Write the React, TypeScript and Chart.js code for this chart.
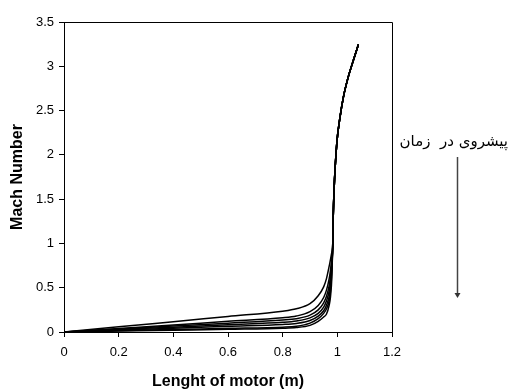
import React, { useEffect, useRef } from "react";
import { Chart, registerables } from "chart.js";

Chart.register(...registerables);

// Shared x positions (m) for the low-speed part of each curve
const bundleX = [0, 0.2, 0.4, 0.6, 0.8, 0.85, 0.9, 0.93, 0.95, 0.96, 0.97, 0.975, 0.98];

// Mach number of each time step over bundleX
const curve1 = [0, 0.058, 0.117, 0.176, 0.235, 0.262, 0.32, 0.41, 0.51, 0.6, 0.74, 0.82, 0.9];
const curve2 = [0, 0.04, 0.08, 0.12, 0.16, 0.18, 0.23, 0.3, 0.39, 0.47, 0.6, 0.7, 0.84];
const curve3 = [0, 0.034, 0.068, 0.1, 0.135, 0.15, 0.19, 0.25, 0.33, 0.4, 0.52, 0.63, 0.8];
const curve4 = [0, 0.028, 0.055, 0.083, 0.11, 0.125, 0.16, 0.21, 0.28, 0.35, 0.46, 0.57, 0.77];
const curve5 = [0, 0.021, 0.042, 0.064, 0.085, 0.097, 0.13, 0.18, 0.24, 0.3, 0.4, 0.51, 0.74];
const curve6 = [0, 0.014, 0.028, 0.041, 0.055, 0.065, 0.1, 0.15, 0.21, 0.26, 0.35, 0.46, 0.7];
const curve7 = [0, 0.01, 0.02, 0.03, 0.042, 0.05, 0.075, 0.12, 0.17, 0.2, 0.3, 0.4, 0.62];

// Common supersonic part (all curves collapse here)
const tailX = [0.983, 0.985, 0.988, 0.998, 1.01, 1.022, 1.04, 1.059, 1.077];
const tailY = [0.96, 1.3, 1.6, 2.13, 2.43, 2.65, 2.88, 3.07, 3.245];

const curves = [curve1, curve2, curve3, curve4, curve5, curve6, curve7];

const xTitle = "Lenght of motor (m)";
const yTitle = "Mach Number";
const noteText = "پیشروی در  زمان";

const FONT = "'Liberation Sans', Arial, sans-serif";

const fmt = (v: any) => String(Math.round(Number(v) * 10) / 10);

const framePlugin = {
  id: "frameAndArrow",
  afterDraw(chart: any) {
    const { ctx, chartArea } = chart;
    ctx.save();
    ctx.strokeStyle = "#000";
    ctx.lineWidth = 1;
    ctx.beginPath();
    ctx.moveTo(chartArea.left, chartArea.top + 0.5);
    ctx.lineTo(chartArea.right + 0.5, chartArea.top + 0.5);
    ctx.lineTo(chartArea.right + 0.5, chartArea.bottom);
    ctx.stroke();
    // arrow
    const ax = chartArea.right + 65.5;
    const y0 = 157;
    const y1 = 298;
    ctx.strokeStyle = "#444";
    ctx.fillStyle = "#333";
    ctx.lineWidth = 1.5;
    ctx.beginPath();
    ctx.moveTo(ax, y0);
    ctx.lineTo(ax, y1 - 4);
    ctx.stroke();
    ctx.beginPath();
    ctx.moveTo(ax - 3, y1 - 5);
    ctx.lineTo(ax + 3, y1 - 5);
    ctx.lineTo(ax, y1);
    ctx.closePath();
    ctx.fill();
    ctx.restore();
  },
};

export default function App() {
  const ref = useRef<HTMLCanvasElement | null>(null);

  useEffect(() => {
    if (!ref.current) return;
    const datasets = curves.map((c) => ({
      data: [
        ...bundleX.map((x, i) => ({ x, y: c[i] })),
        ...tailX.map((x, i) => ({ x, y: tailY[i] })),
      ],
      borderColor: "#000",
      borderWidth: 1.5,
      pointRadius: 0,
      cubicInterpolationMode: "monotone" as const,
      fill: false,
    }));
    const chart = new Chart(ref.current, {
      type: "line",
      data: { datasets },
      plugins: [framePlugin],
      options: {
        responsive: false,
        animation: false,
        layout: { padding: { top: 22, right: 116, left: 0, bottom: 0 } },
        plugins: { legend: { display: false }, tooltip: { enabled: false } },
        scales: {
          x: {
            type: "linear",
            min: 0,
            max: 1.2,
            afterFit(scale: any) {
              scale.height = 59;
            },
            ticks: {
              stepSize: 0.2,
              color: "#000",
              padding: 8,
              font: { family: FONT, size: 13 },
              callback: fmt,
            },
            grid: { drawOnChartArea: false, drawTicks: true, tickLength: 5, color: "#000" },
            border: { display: true, color: "#000", width: 1 },
            title: {
              display: true,
              text: xTitle,
              color: "#000",
              padding: { top: 0, bottom: 0 },
              font: { family: FONT, size: 16, weight: "bold" },
            },
          },
          y: {
            type: "linear",
            min: 0,
            max: 3.5,
            afterFit(scale: any) {
              scale.width = 64;
            },
            ticks: {
              stepSize: 0.5,
              color: "#000",
              padding: 5,
              font: { family: FONT, size: 13 },
              callback: fmt,
            },
            grid: { drawOnChartArea: false, drawTicks: true, tickLength: 5, color: "#000" },
            border: { display: true, color: "#000", width: 1 },
            title: {
              display: true,
              text: yTitle,
              color: "#000",
              padding: { top: 8, bottom: 0 },
              font: { family: FONT, size: 16, weight: "bold" },
            },
          },
        },
      },
    });
    return () => chart.destroy();
  }, []);

  return (
    <div style={{ position: "absolute", left: 0, top: 0, width: 508, height: 391, background: "#fff" }}>
      <canvas ref={ref} width={508} height={391} />
      <div
        dir="rtl"
        style={{
          position: "absolute",
          right: 0,
          top: 132,
          fontFamily: "'DejaVu Sans', sans-serif",
          fontSize: 15,
          color: "#000",
          whiteSpace: "pre",
        }}
      >
        {noteText}
      </div>
    </div>
  );
}
